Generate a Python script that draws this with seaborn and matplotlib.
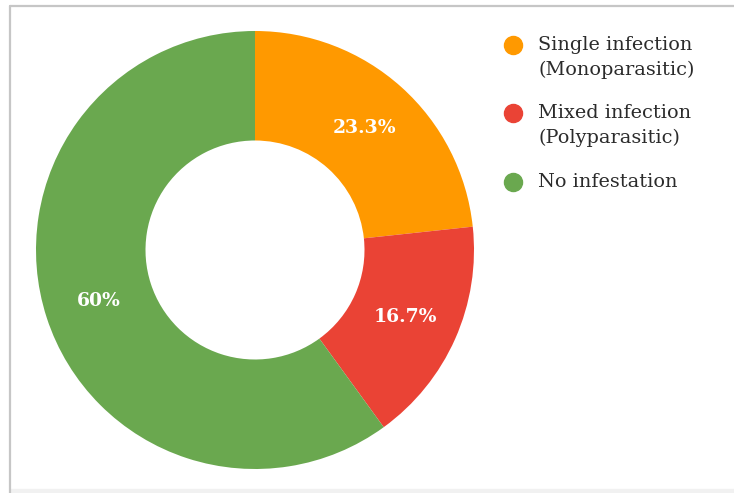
import matplotlib
matplotlib.use("Agg")
import matplotlib.pyplot as plt
import seaborn as sns
from matplotlib.lines import Line2D
from matplotlib.patches import Rectangle

# data
categories = ["Single infection\n(Monoparasitic)", "Mixed infection\n(Polyparasitic)", "No infestation"]
shares = [23.3, 16.7, 60.0]
colors = ["#FF9900", "#EA4335", "#6AA84F"]

sns.set_style("white")
plt.rcParams['font.family'] = ['DejaVu Serif']

W, H = 734, 493
fig = plt.figure(figsize=(W / 100, H / 100), dpi=100)

# donut: centre (255, 250) px, radius 219 px
cx, cy, r = 255, 250, 219
ax = fig.add_axes([(cx - r) / W, (H - cy - r) / H, 2 * r / W, 2 * r / H])


def fmt_pct(p):
    s = f"{p:.1f}"
    if s.endswith(".0"):
        s = s[:-2]
    return s + "%"


wedges, texts, autotexts = ax.pie(
    shares, colors=colors, startangle=90, counterclock=False,
    radius=1, autopct=fmt_pct, pctdistance=0.75,
    wedgeprops=dict(width=0.5, linewidth=0),
    textprops=dict(color="white", fontsize=13.5, fontweight="bold"),
)
ax.set_xlim(-1, 1)
ax.set_ylim(-1, 1)
ax.set_aspect("equal")
ax.axis("off")

# legend, drawn by hand so the marker sits on the first line
rows_y = [45, 113, 182]
for label, col, y in zip(categories, colors, rows_y):
    fig.add_artist(Line2D([513 / W], [1 - y / H], marker="o", markersize=13,
                          color=col, linestyle="none", transform=fig.transFigure))
    for i, line in enumerate(label.split("\n")):
        fig.text(538 / W, 1 - (y + 25 * i) / H, line, fontsize=13.9,
                 color="#2b2b2b", va="center", ha="left")

# frame lines around the card
fig.add_artist(Line2D([10 / W, 1], [1 - 6 / H, 1 - 6 / H], color="#c6c6c6", linewidth=1.6,
                      transform=fig.transFigure))
fig.add_artist(Line2D([10 / W, 10 / W], [0, 1 - 6 / H], color="#c6c6c6", linewidth=1.6,
                      transform=fig.transFigure))
fig.add_artist(Rectangle((11 / W, 0), 1, 4 / H, color="#f1f1f1", transform=fig.transFigure))

fig.savefig("out.png", dpi=100)
